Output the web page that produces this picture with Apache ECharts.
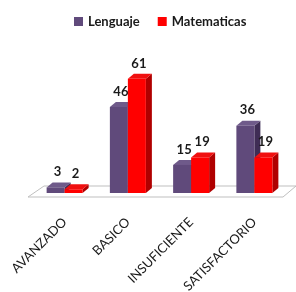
<!DOCTYPE html>
<html>
<head>
<meta charset="utf-8">
<script src="https://cdn.jsdelivr.net/npm/echarts@6/dist/echarts.min.js"></script>
<style>
  html, body { margin: 0; padding: 0; background: #fff; }
  #chart { width: 296px; height: 292px; }
</style>
</head>
<body>
<div id="chart"></div>
<script>
var categorias = ['AVANZADO', 'BASICO', 'INSUFICIENTE', 'SATISFACTORIO']
var lenguaje = [3, 46, 15, 36]
var matematicas = [2, 61, 19, 19]

var dom = document.getElementById('chart')
var myChart = echarts.init(dom)

var barW = 18
var dx = 6
var dy = -5

function makeRender(idx, front, side, topc) {
  return function (params, api) {
    var cat = api.value(0)
    var v = api.value(1)
    var base = api.coord([cat, 0])
    var top = api.coord([cat, v])
    var x = base[0] + (idx === 0 ? -barW : 0)
    var yT = top[1]
    var yB = base[1]
    return {
      type: 'group',
      children: [
        {
          type: 'polygon',
          shape: { points: [[x + barW, yT], [x + barW + dx, yT + dy], [x + barW + dx, yB + dy], [x + barW, yB]] },
          style: { fill: side }
        },
        {
          type: 'polygon',
          shape: { points: [[x, yT], [x + dx, yT + dy], [x + barW + dx, yT + dy], [x + barW, yT]] },
          style: { fill: topc }
        },
        {
          type: 'rect',
          shape: { x: x, y: yT, width: barW, height: yB - yT },
          style: { fill: front }
        },
        {
          type: 'text',
          style: {
            text: String(v),
            x: x + barW / 2 + dx / 2 - 1,
            y: yT + dy - 4,
            align: 'center',
            verticalAlign: 'bottom',
            font: 'bold 13px Lato, "Liberation Sans", sans-serif',
            fill: '#1a1a1a'
          }
        }
      ]
    }
  }
}

function toData(arr) {
  return arr.map(function (v, i) { return [i, v] })
}

option = {
  animation: false,
  legend: {
    left: 69,
    top: 10,
    icon: 'rect',
    itemWidth: 9,
    itemHeight: 9,
    itemGap: 18,
    textStyle: {
      fontFamily: 'Lato, "Liberation Sans", sans-serif',
      fontWeight: 'bold',
      fontSize: 13,
      color: '#1a1a1a'
    },
    data: ['Lenguaje', 'Matematicas']
  },
  graphic: [
    {
      type: 'polygon',
      z: 0,
      shape: { points: [[28, 197], [44, 186], [296, 186], [283, 197]] },
      style: { fill: '#ffffff', stroke: '#bfbfbf', lineWidth: 1 }
    }
  ],
  grid: {
    left: 33,
    right: 10,
    top: 62,
    bottom: 99,
    containLabel: false,
    outerBoundsMode: 'none'
  },
  xAxis: {
    type: 'category',
    data: categorias,
    axisLine: { show: false },
    axisTick: { show: false },
    axisLabel: {
      rotate: 45,
      margin: 27,
      interval: 0,
      fontFamily: 'Lato, "Liberation Sans", sans-serif',
      fontSize: 13,
      color: '#1a1a1a'
    }
  },
  yAxis: {
    type: 'value',
    min: 0,
    max: 70,
    show: false,
    splitLine: { show: false }
  },
  series: [
    {
      name: 'Lenguaje',
      type: 'custom',
      itemStyle: { color: '#604a7b' },
      renderItem: makeRender(0, '#604a7b', '#3f2d55', '#6f5a8a'),
      data: toData(lenguaje),
      z: 2
    },
    {
      name: 'Matematicas',
      type: 'custom',
      itemStyle: { color: '#ff0000' },
      renderItem: makeRender(1, '#ff0000', '#b00000', '#f01010'),
      data: toData(matematicas),
      z: 3
    }
  ]
}
if (option && typeof option === 'object') {
  myChart.setOption(option, true)
}
</script>
</body>
</html>
